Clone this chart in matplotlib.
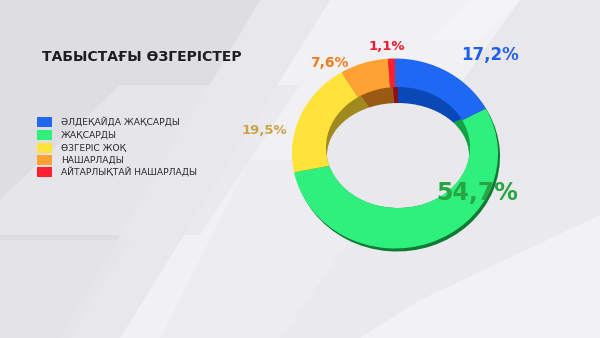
import matplotlib
matplotlib.use("Agg")
import matplotlib.pyplot as plt
from matplotlib.patches import Polygon, Ellipse, Rectangle
from matplotlib.transforms import Affine2D
import numpy as np

title = "ТАБЫСТАҒЫ ӨЗГЕРІСТЕР"
categories = ["ӘЛДЕҚАЙДА ЖАҚСАРДЫ", "ЖАҚСАРДЫ", "ӨЗГЕРІС ЖОҚ", "НАШАРЛАДЫ", "АЙТАРЛЫҚТАЙ НАШАРЛАДЫ"]
values = [17.2, 54.7, 19.5, 7.6, 1.1]
value_labels = ["17,2%", "54,7%", "19,5%", "7,6%", "1,1%"]
colors = ["#1f68f4", "#2ff07c", "#ffe23a", "#ffa233", "#ff1f2e"]
wall_colors = ["#0a48b8", "#14a046", "#a08a20", "#9a5a14", "#8a1020"]
edge_colors = ["#1a3fa0", "#0f7a34", "#8a7a18", "#8a5a14", "#7a1020"]
label_colors = ["#1f5ef0", "#27a543", "#c9a44a", "#f47a1c", "#ee1c2c"]

W, H = 600, 338
fig = plt.figure(figsize=(6, 3.38), dpi=100)
ax = fig.add_axes([0, 0, 1, 1])


def Y(y):
    return H - y


def finish_axes():
    ax.set_xlim(0, W)
    ax.set_ylim(0, H)
    ax.axis("off")


finish_axes()

# background
ax.add_patch(Rectangle((0, 0), W, H, color="#dedee2", zorder=0))
bg_polys = [
    ([(260, 0), (600, 0), (600, 338), (60, 338)], "#e8e8ec", 1.0),
    ([(330, 0), (520, 0), (280, 338), (120, 338)], "#f1f1f4", 1.0),
    ([(120, 85), (300, 85), (200, 235), (0, 235), (0, 200)], "#e9e9ed", 0.8),
    ([(250, 160), (600, 160), (600, 338), (160, 338)], "#ececf0", 0.7),
    ([(420, 300), (600, 215), (600, 338), (360, 338)], "#f3f3f6", 0.9),
    ([(470, 0), (520, 0), (480, 40), (430, 40)], "#f5f5f8", 0.9),
    ([(0, 240), (130, 240), (70, 338), (0, 338)], "#e6e6ea", 0.8),
]
for pts, c, a in bg_polys:
    ax.add_patch(Polygon([(x, Y(y)) for x, y in pts], closed=True,
                         facecolor=c, edgecolor="none", alpha=a, zorder=1))

# ring geometry (pixel units)
cx, cy = 395, Y(153.5)
rx, ry = 103, 95
hole_c = (398, Y(147.5))
hole_rx, hole_ry = 72, 60.5
floor_c = (398, Y(155.5))
floor_rx, floor_ry = 71, 52.5


def ell_tf(x0, y0, sx, sy):
    return Affine2D().scale(sx, sy).translate(x0, y0) + ax.transData


# outer wall (thickness at lower right)
w_out, _ = ax.pie(values, colors=edge_colors, startangle=90, counterclock=False,
                  center=(0, 0), radius=1, frame=True, wedgeprops=dict(linewidth=0))
for wdg in w_out:
    wdg.set_transform(ell_tf(cx + 2, cy - 3, rx, ry))
    wdg.set_zorder(2)

# main ring (full disc, hole drawn on top)
w_main, _ = ax.pie(values, colors=colors, startangle=90, counterclock=False,
                   center=(0, 0), radius=1, frame=True, wedgeprops=dict(linewidth=0))
for wdg in w_main:
    wdg.set_transform(ell_tf(cx, cy, rx, ry))
    wdg.set_zorder(3)

# hole with visible inner wall
hole = Ellipse(hole_c, 2 * hole_rx, 2 * hole_ry, facecolor="none", edgecolor="none")
ax.add_patch(hole)
w_in, _ = ax.pie(values, colors=wall_colors, startangle=90, counterclock=False,
                 center=(0, 0), radius=1, frame=True, wedgeprops=dict(linewidth=0))
for wdg in w_in:
    wdg.set_transform(ell_tf(hole_c[0], hole_c[1], hole_rx * 1.3, hole_ry * 1.3))
    wdg.set_zorder(4)
    wdg.set_clip_on(True)
    wdg.set_clip_path(hole)
floor = Ellipse(floor_c, 2 * floor_rx, 2 * floor_ry, facecolor="#e9e9ed",
                edgecolor="none", zorder=5)
ax.add_patch(floor)
floor.set_clip_on(True)
floor.set_clip_path(hole)
finish_axes()

# title
ax.text(42, Y(57), title, fontsize=10, fontweight="bold", color="#1e1e22",
        ha="left", va="center", family="DejaVu Sans", zorder=6)

# legend
leg_y = [122, 135, 148, 160, 172]
for cat, c, yy in zip(categories, colors, leg_y):
    ax.add_patch(Rectangle((37, Y(yy) - 5), 15, 10, facecolor=c,
                           edgecolor="none", zorder=6))
    ax.text(61, Y(yy), cat, fontsize=6.6, color="#2a2a30", ha="left",
            va="center", family="DejaVu Sans", zorder=6)

# value labels
lab_pos = [(490, 55, 12), (477, 193, 17), (264, 130, 9.5), (329, 63, 10), (387, 47, 9.5)]
for lab, c, (x, y, fs) in zip(value_labels, label_colors, lab_pos):
    ax.text(x, Y(y), lab, fontsize=fs, fontweight="bold", color=c,
            ha="center", va="center", family="DejaVu Sans", zorder=7)

fig.savefig("out.png", dpi=100)
